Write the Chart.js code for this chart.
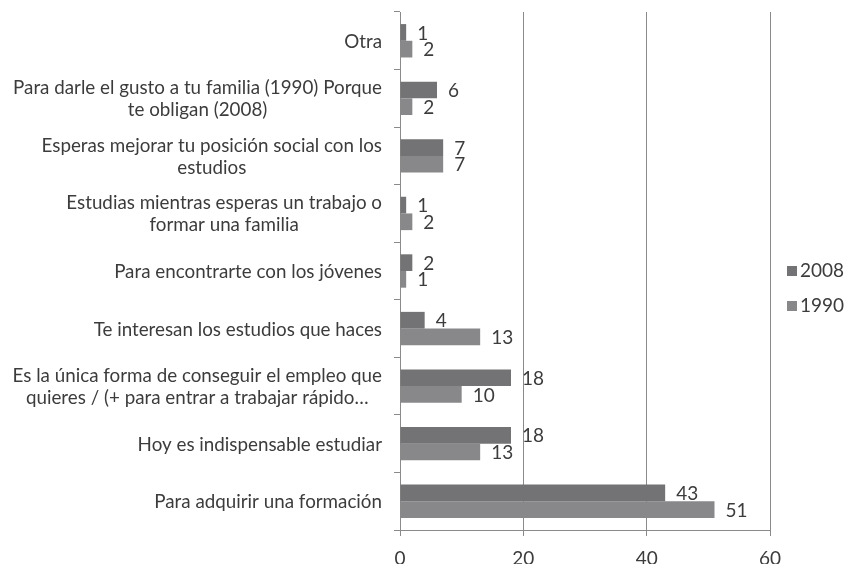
<!DOCTYPE html>
<html>
<head>
<meta charset="utf-8">
<script src="https://cdn.jsdelivr.net/npm/chart.js@4.4.0/dist/chart.umd.min.js"></script>
<style>
  html, body { margin: 0; padding: 0; background: #fff; }
</style>
</head>
<body>
<canvas id="chart" width="846" height="564"></canvas>
<script>
const categories = [
    ['Otra'],
    ['Para darle el gusto a tu familia (1990) Porque', 'te obligan (2008)'],
    ['Esperas mejorar tu posición social con los', 'estudios'],
    ['Estudias mientras esperas un trabajo o', 'formar una familia'],
    ['Para encontrarte con los jóvenes'],
    ['Te interesan los estudios que haces'],
    ['Es la única forma de conseguir el empleo que', 'quieres / (+ para entrar a trabajar rápido…'],
    ['Hoy es indispensable estudiar'],
    ['Para adquirir una formación']
];
const values2008 = [1, 6, 7, 1, 2, 4, 18, 18, 43];
const values1990 = [2, 2, 7, 2, 1, 13, 10, 13, 51];
const seriesNames = ['2008', '1990'];
const seriesColors = ['#737375', '#88888a'];
const xTicks = [0, 20, 40, 60];

const textColor = '#3c3c3c';
const fontFamily = 'Lato, "Open Sans", sans-serif';

// value labels to the right of each bar
const valueLabels = {
    id: 'valueLabels',
    afterDatasetsDraw(chart) {
        const ctx = chart.ctx;
        ctx.save();
        ctx.font = '19px ' + fontFamily;
        ctx.fillStyle = textColor;
        ctx.textBaseline = 'middle';
        ctx.textAlign = 'left';
        chart.data.datasets.forEach(function (ds, i) {
            chart.getDatasetMeta(i).data.forEach(function (bar, j) {
                ctx.fillText(ds.data[j], bar.x + 11, bar.y + 1);
            });
        });
        ctx.restore();
    }
};

// category labels: block right-aligned to the axis, lines centered in the block
const categoryLabels = {
    id: 'categoryLabels',
    afterDraw(chart) {
        const ctx = chart.ctx;
        const yScale = chart.scales.y;
        const right = chart.chartArea.left - 18;
        ctx.save();
        ctx.font = '18.8px ' + fontFamily;
        ctx.fillStyle = textColor;
        ctx.textBaseline = 'middle';
        ctx.textAlign = 'center';
        categories.forEach(function (lines, i) {
            const cy = yScale.getPixelForValue(i) + 1;
            const w = Math.max(...lines.map(l => ctx.measureText(l).width));
            const cx = right - w / 2;
            lines.forEach(function (line, k) {
                ctx.fillText(line, cx, cy + (k - (lines.length - 1) / 2) * 22);
            });
        });
        ctx.restore();
    }
};

// legend on the right, small squares close to the text
const sideLegend = {
    id: 'sideLegend',
    afterDraw(chart) {
        const ctx = chart.ctx;
        ctx.save();
        ctx.font = '19px ' + fontFamily;
        ctx.textBaseline = 'middle';
        ctx.textAlign = 'left';
        seriesNames.forEach(function (name, i) {
            const y = 271 + i * 35;
            ctx.fillStyle = seriesColors[i];
            ctx.fillRect(787, y - 5, 10, 10);
            ctx.fillStyle = textColor;
            ctx.fillText(name, 800, y);
        });
        ctx.restore();
    }
};

new Chart(document.getElementById('chart'), {
    type: 'bar',
    data: {
        labels: categories,
        datasets: seriesNames.map(function (name, i) {
            return {
                label: name,
                data: i === 0 ? values2008 : values1990,
                backgroundColor: seriesColors[i],
                categoryPercentage: 0.58,
                barPercentage: 1.0
            };
        })
    },
    options: {
        indexAxis: 'y',
        responsive: false,
        animation: false,
        layout: { padding: { top: 12, right: 76, bottom: 0, left: 0 } },
        scales: {
            x: {
                min: xTicks[0],
                max: xTicks[xTicks.length - 1],
                afterBuildTicks: function (scale) {
                    scale.ticks = xTicks.map(v => ({ value: v }));
                },
                afterFit: function (scale) { scale.height = 34; },
                ticks: { color: textColor, font: { family: fontFamily, size: 19 }, padding: 11 },
                grid: { color: '#8a8a8a', lineWidth: 1, tickLength: 6 },
                border: { color: '#8a8a8a' }
            },
            y: {
                offset: true,
                ticks: { display: false },
                afterFit: function (scale) { scale.width = 400; },
                grid: { drawOnChartArea: false, color: '#8a8a8a', tickLength: 6, offset: true },
                border: { color: '#8a8a8a' }
            }
        },
        plugins: {
            legend: { display: false },
            tooltip: { enabled: false }
        }
    },
    plugins: [valueLabels, categoryLabels, sideLegend]
});
</script>
</body>
</html>
